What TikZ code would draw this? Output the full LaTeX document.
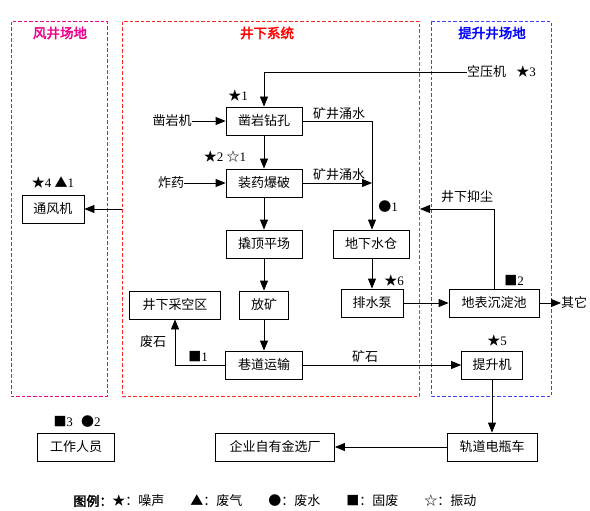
\documentclass[tikz,border=0pt]{standalone}
\usepackage{fontspec}
\setmainfont{Liberation Serif}
\newfontfamily\cjk{Noto Sans CJK SC}
\newfontfamily\cjkb{Noto Sans CJK SC}[FakeBold=2.5]
\usetikzlibrary{arrows.meta}
\begin{document}
\begin{tikzpicture}[x=1pt,y=-1pt,
  box/.style={draw, line width=0.8pt, minimum height=28pt, inner sep=0pt, font=\cjk\fontsize{13}{13}\selectfont},
  lbl/.style={inner sep=0pt, font=\cjk\fontsize{13}{13}\selectfont},
  sym/.style={inner sep=0pt, font=\fontsize{13}{13}\selectfont},
  ttl/.style={inner sep=0pt, font=\cjkb\fontsize{13.5}{13.5}\selectfont},
  arr/.style={line width=0.8pt, -{Triangle[length=10pt,width=8pt]}},
  ln/.style={line width=0.8pt},
  region/.style={line width=1pt, dash pattern=on 3.5pt off 2pt}]
\useasboundingbox (0,0) rectangle (590,511);
% regions
\draw[region, magenta] (11,22) rectangle (107,396);
\draw[region, red!85!white] (122,22) rectangle (419,396);
\draw[region, blue!75!white] (431,22) rectangle (551,396);
\node[ttl, magenta] (t1) at (60,33) {风井场地};
\node[ttl, red] (t2) at (267,33) {井下系统};
\node[ttl, blue] (t3) at (492,33) {提升井场地};
% boxes
\node[box, minimum width=76pt] (zy) at (264,121) {凿岩钻孔};
\node[box, minimum width=76pt] (zyb) at (264,183) {装药爆破};
\node[box, minimum width=76pt] (qd) at (264,244) {撬顶平场};
\node[box, minimum width=49pt] (fk) at (264,305) {放矿};
\node[box, minimum width=91pt] (cqk) at (175,305) {井下采空区};
\node[box, minimum width=77pt] (hd) at (264,365) {巷道运输};
\node[box, minimum width=62pt] (tfj) at (53,209) {通风机};
\node[box, minimum width=76pt] (dxsc) at (371,244) {地下水仓};
\node[box, minimum width=62pt] (psb) at (372,303) {排水泵};
\node[box, minimum width=90pt] (cdc) at (494,303) {地表沉淀池};
\node[box, minimum width=61pt] (tsj) at (492,365) {提升机};
\node[box, minimum width=90pt] (gd) at (492,447) {轨道电瓶车};
\node[box, minimum width=119pt] (xc) at (275,447) {企业自有金选厂};
\node[box, minimum width=77pt] (gzry) at (76,447) {工作人员};
% labels
\node[sym] (s1) at (238,96) {{\cjk ★}1};
\node[lbl] (zyj) at (172,121) {凿岩机};
\node[sym] (s2) at (225,157) {{\cjk ★}2 {\cjk ☆}1};
\node[lbl] (zhy) at (171,183) {炸药};
\node[lbl, anchor=west] (kyj) at (467,72) {空压机};
\node[sym] (s3) at (526,72) {{\cjk ★}3};
\node[lbl] (ys1) at (339,114) {矿井涌水};
\node[lbl] (ys2) at (339,175) {矿井涌水};
\node[sym] (c1) at (388,207) {{\cjk ●}1};
\node[lbl] (yc) at (467,197) {井下抑尘};
\node[sym] (s4) at (53,183) {{\cjk ★}4 {\cjk ▲}1};
\node[sym] (s6) at (394,281) {{\cjk ★}6};
\node[lbl, anchor=west] (qt) at (561,303) {其它};
\node[sym] (q2) at (514,281) {{\cjk ■}2};
\node[sym] (s5) at (497,341) {{\cjk ★}5};
\node[lbl] (ks) at (365,357) {矿石};
\node[lbl] (fs) at (153,342) {废石};
\node[sym] (q1) at (198,357) {{\cjk ■}1};
\node[sym] (q3) at (77,422) {{\cjk ■}3\hspace{8pt}{\cjk ●}2};
\node[inner sep=0pt, font=\fontsize{13}{13}\selectfont] (leg) at (275,501)
  {{\cjkb 图例：}{\cjk ★：噪声}\hspace{26pt}{\cjk ▲：废气}\hspace{26pt}{\cjk ●：废水}\hspace{26pt}{\cjk ■：固废}\hspace{26pt}{\cjk ☆：振动}};
% coordinates
\coordinate (w2) at (372,183);
\coordinate (dust) at (420,209);
\coordinate (vent) at (122,209);
% connectors
\draw[arr] (kyj.west) -| (zy.north);
\draw[arr] (zyj.east) -- (zy.west);
\draw[arr] (zhy.east) -- (zyb.west);
\draw[arr] (zy.south) -- (zyb.north);
\draw[arr] (zyb.south) -- (qd.north);
\draw[arr] (qd.south) -- (fk.north);
\draw[arr] (fk.south) -- (hd.north);
\draw[arr] (zy.east) -| (dxsc.north -| w2);
\draw[arr] (zyb.east) -- (w2);
\draw[arr] (dxsc.south -| psb.north) -- (psb.north);
\draw[arr] (psb.east) -- (cdc.west);
\draw[arr] (cdc.east) -- (qt.west);
\draw[arr] (cdc.north) |- (dust);
\draw[arr] (vent) -- (tfj.east);
\draw[arr] (hd.east) -- (tsj.west);
\draw[arr] (hd.west) -| (cqk.south);
\draw[arr] (tsj.south) -- (gd.north);
\draw[arr] (gd.west) -- (xc.east);
\end{tikzpicture}
\end{document}
